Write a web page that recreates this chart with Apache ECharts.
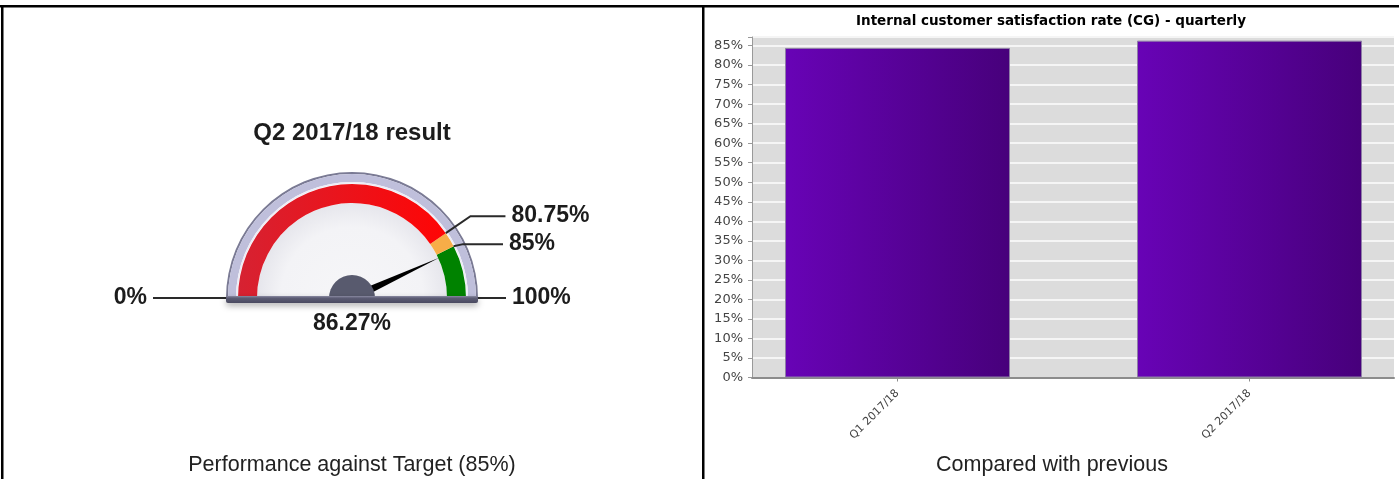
<!DOCTYPE html>
<html>
<head>
<meta charset="utf-8">
<script src="https://cdn.jsdelivr.net/npm/echarts@6/dist/echarts.min.js"></script>
<style>
html,body{margin:0;padding:0;background:#fff;}
#main{width:1399px;height:479px;}
</style>
</head>
<body>
<div id="main"></div>
<script>
// bar chart data
var quarters = ['Q1 2017/18', 'Q2 2017/18'];
var rates = [84.4, 86.27];
var yMax = 87.2;

// gauge data
var gaugeTitle = 'Q2 2017/18 result';
var gaugeValue = 86.27;
var bandStops = [80.75, 85, 100];
var bandColors = ['#f01818', '#f7ad48', '#008200'];
var markValues = [0, 80.75, 85, 100];
// leader line lengths (radial part, horizontal part)
var leaderLen1 = [10, 30, 10, 10];
var leaderLen2 = [75, 35, 40, 36];

var captions = ['Performance against Target (85%)', 'Compared with previous'];
var barTitle = 'Internal customer satisfaction rate (CG) - quarterly';

var cx = 352, cy = 298;
var chart = echarts.init(document.getElementById('main'));

// one plain gauge ring (decoration of the dial)
function ring(radius, width, color, z) {
	return {
		type: 'gauge', center: [cx, cy], radius: radius,
		startAngle: 180, endAngle: 0, silent: true, z: z,
		axisLine: {lineStyle: {width: width, color: [[1, color]]}},
		axisTick: {show: false}, splitLine: {show: false}, axisLabel: {show: false},
		pointer: {show: false}, anchor: {show: false}, title: {show: false}, detail: {show: false},
		data: [{value: 0}]
	};
}

// band colours: red part gets a slight gradient like the original
var bandColorStops = bandStops.map(function (v, i) {
	var c = bandColors[i];
	if (i === 0) {
		c = new echarts.graphic.LinearGradient(0, 0, 1, 0, [
			{offset: 0, color: '#d62232'}, {offset: 1, color: '#ff0505'}
		]);
	}
	return [v / 100, c];
});

// pie used only for the threshold labels and their leader lines
var pieData = [];
var prev = 0;
markValues.forEach(function (v, i) {
	if (v > prev) {
		pieData.push({value: v - prev, label: {show: false}, labelLine: {show: false}});
	}
	pieData.push({value: 0, name: v + '%', labelLine: {length: leaderLen1[i], length2: leaderLen2[i]}});
	prev = v;
});
pieData.push({value: prev, label: {show: false}, labelLine: {show: false}});

var gaugeFont = {fontFamily: 'Liberation Sans', fontWeight: 'bold', fontSize: 23, color: '#1c1c1c'};

function centerText(x, y, text, font, fill) {
	return {type: 'text', x: x, y: y, z: 20,
		style: {text: text, textAlign: 'center', textVerticalAlign: 'middle', align: 'center', verticalAlign: 'middle',
			font: font, fill: fill}};
}

var option = {
	animation: false,
	backgroundColor: '#fff',
	graphic: [
		{type: 'rect', shape: {x: 0, y: 5, width: 1399, height: 2.5}, style: {fill: '#000'}, z: 50},
		{type: 'rect', shape: {x: 1, y: 5, width: 2.5, height: 474}, style: {fill: '#000'}, z: 50},
		{type: 'rect', shape: {x: 702, y: 5, width: 2.5, height: 474}, style: {fill: '#000'}, z: 50},
		// dial base
		{type: 'rect', shape: {x: cx - 126, y: 296, width: 252, height: 7, r: 2},
			style: {fill: new echarts.graphic.LinearGradient(0, 0, 0, 1, [
				{offset: 0, color: '#8a8aa2'}, {offset: 0.3, color: '#5c5c74'}, {offset: 1, color: '#4a4a60'}
			]), shadowBlur: 6, shadowOffsetY: 3, shadowColor: 'rgba(0,0,0,0.3)'}, z: 10},
		centerText(cx, 133, gaugeTitle, 'bold 24px "Liberation Sans"', '#1c1c1c'),
		centerText(352, 465, captions[0], '21.5px "Liberation Sans"', '#222'),
		centerText(1052, 465, captions[1], '21.5px "Liberation Sans"', '#222'),
		centerText(1051, 21, barTitle, 'bold 13.5px "DejaVu Sans"', '#000')
	],
	grid: [
		{left: 752, width: 642, top: 37, bottom: 101.5, show: true, backgroundColor: '#dcdcdc', borderWidth: 0},
		{left: 897.5, width: 352, top: 37, bottom: 101.5}
	],
	xAxis: [
		{gridIndex: 0, type: 'category', data: quarters,
			axisLine: {lineStyle: {color: '#8c8c8c', width: 2}},
			axisTick: {show: false}, axisLabel: {show: false}},
		{gridIndex: 1, type: 'category', data: quarters, boundaryGap: false,
			axisLine: {show: false},
			axisTick: {length: 4, lineStyle: {color: '#8c8c8c'}},
			axisLabel: {rotate: 45, fontSize: 11, color: '#444', fontFamily: 'DejaVu Sans', margin: 14}}
	],
	yAxis: [
		{gridIndex: 0, type: 'value', min: 0, max: yMax, interval: 5,
			axisLine: {show: true, lineStyle: {color: '#999'}},
			axisTick: {show: true, length: 4, lineStyle: {color: '#999'}},
			axisLabel: {color: '#444', fontSize: 13, fontFamily: 'DejaVu Sans', margin: 9,
				formatter: function (v) { return Math.abs(v % 5) < 1e-6 ? v + '%' : ''; }},
			splitLine: {lineStyle: {color: '#f5f5f5', width: 2}}},
		{gridIndex: 1, type: 'value', min: 0, max: yMax, show: false, splitLine: {show: false}}
	],
	series: [
		{
			type: 'bar', xAxisIndex: 1, yAxisIndex: 1, data: rates, barWidth: 225, clip: false,
			itemStyle: {
				color: new echarts.graphic.LinearGradient(0, 0, 1, 0, [
					{offset: 0, color: '#6803b6'}, {offset: 1, color: '#47007b'}
				]),
				borderColor: '#8e7ea6', borderWidth: 1
			}
		},
		ring(126, 2, '#7a7a94', 1),
		ring(124, 8, '#bfbfdb', 1),
		ring(116, 1.5, '#ececf6', 1),
		ring(95, 95, new echarts.graphic.RadialGradient(0.5, 1, 1, [
			{offset: 0, color: '#f6f6f8'}, {offset: 0.75, color: '#f3f3f6'}, {offset: 1, color: '#e6e6ec'}
		]), 1),
		{
			type: 'gauge', center: [cx, cy], radius: 114, min: 0, max: 100,
			startAngle: 180, endAngle: 0, z: 3,
			axisLine: {lineStyle: {width: 19, color: bandColorStops}},
			axisTick: {show: false}, splitLine: {show: false}, axisLabel: {show: false},
			pointer: {icon: 'path://M4,0 L8,100 L0,100 Z', length: 96, width: 9, itemStyle: {color: '#000'}},
			anchor: {show: true, showAbove: true, size: 46, keepAspect: true,
				icon: 'path://M0,10 A10,10 0 0 1 20,10 Z', offsetCenter: [0, -11.5],
				itemStyle: {color: '#585a6e'}},
			title: {show: false},
			detail: {offsetCenter: [0, 26], formatter: '{value}%',
				fontFamily: gaugeFont.fontFamily, fontWeight: gaugeFont.fontWeight,
				fontSize: gaugeFont.fontSize, color: gaugeFont.color},
			data: [{value: gaugeValue}]
		},
		{
			type: 'pie', center: [cx, cy], radius: 114, startAngle: 180, clockwise: true,
			silent: true, z: 4, avoidLabelOverlap: true,
			itemStyle: {color: 'transparent'},
			label: {show: true, position: 'outside', formatter: '{b}', distanceToLabelLine: 6, lineHeight: 26,
				fontFamily: gaugeFont.fontFamily, fontWeight: gaugeFont.fontWeight,
				fontSize: gaugeFont.fontSize, color: gaugeFont.color},
			labelLine: {show: true, smooth: false, lineStyle: {color: '#2a2a2a', width: 2}},
			data: pieData
		}
	]
};
chart.setOption(option);
</script>
</body>
</html>
